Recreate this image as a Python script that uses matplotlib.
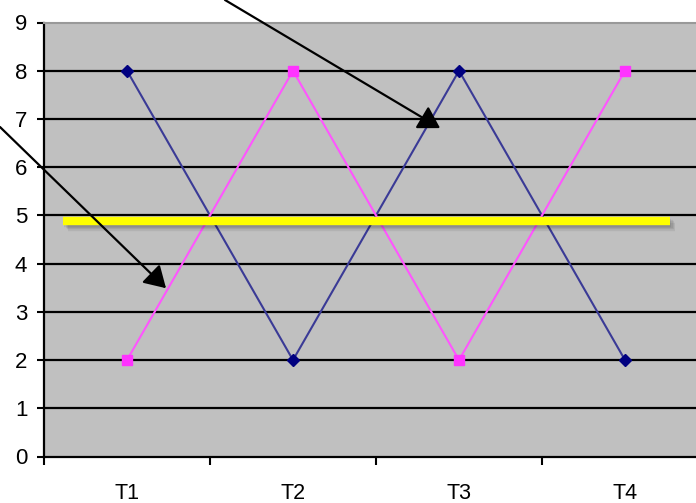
import matplotlib
matplotlib.use("Agg")
import matplotlib.pyplot as plt
import matplotlib.patheffects as pe

# Chart data
categories = ["T1", "T2", "T3", "T4"]
series_a = [8, 2, 8, 2]   # navy, diamonds
series_b = [2, 8, 2, 8]   # magenta, squares
y_ticks = list(range(0, 10))
mean_level = 4.88          # yellow reference line
mean_span = (-0.386, 3.27) # x extent of the reference line (category units)

# Arrow tips (data units) and tails (figure pixels)
arrow_tips = [(1.886, 6.81), (0.235, 3.49)]
arrow_tails = [(225, 503), (0, 376)]

plt.rcParams["font.family"] = ["Liberation Sans", "DejaVu Sans"]

fig = plt.figure(figsize=(6.96, 5.03), dpi=100)
ax = fig.add_axes([44 / 696, 46.5 / 503, 664 / 696, 434 / 503])
ax.set_facecolor("#c0c0c0")

x = list(range(len(categories)))

# Horizontal grid lines
for v in y_ticks[1:-1]:
    ax.axhline(v, color="black", lw=1.6, zorder=1)

ax.plot(x, series_a, color="#3a3a96", lw=1.5, marker="D", ms=6,
        mfc="#000080", mec="#000080", zorder=3)
ax.plot(x, series_b, color="#ff55ff", lw=1.5, marker="s", ms=7,
        mfc="#ff33ff", mec="#ff33ff", zorder=3)

# Yellow reference line with a soft drop shadow
shadow = [pe.SimpleLineShadow(offset=(d, -d), shadow_color="black", alpha=0.07)
          for d in (1.0, 2.0, 3.0, 4.0)]
ax.plot(mean_span, [mean_level, mean_level], color="#ffff00", lw=6,
        solid_capstyle="butt", zorder=4,
        path_effects=shadow + [pe.Normal()])

ax.set_xlim(-0.5, 3.5)
ax.set_ylim(0, 9)

ax.set_yticks(y_ticks)
ax.set_yticklabels([str(v) for v in y_ticks])
ax.tick_params(axis="y", length=5, width=1.5, pad=7, labelsize=16, direction="out")

ax.set_xticks(x)
ax.set_xticklabels(categories)
ax.set_xticks([v - 0.5 for v in range(len(categories) + 1)], minor=True)
ax.tick_params(axis="x", which="major", length=0, pad=19, labelsize=15.5)
ax.tick_params(axis="x", which="minor", length=6, width=1.5, direction="out")
for lbl in ax.get_xticklabels() + ax.get_yticklabels():
    lbl.set_fontweight("medium")

for side in ("top", "right"):
    ax.spines[side].set_color("#999999")
    ax.spines[side].set_linewidth(1.5)
for side in ("left", "bottom"):
    ax.spines[side].set_color("black")
    ax.spines[side].set_linewidth(1.6)

# Pointer arrows
for tip, tail in zip(arrow_tips, arrow_tails):
    ax.annotate("", xy=tip, xycoords="data", xytext=tail, textcoords="figure pixels",
                arrowprops=dict(arrowstyle="-|>,head_length=0.5,head_width=0.3",
                                color="black", lw=1.6,
                                mutation_scale=26, shrinkA=0, shrinkB=0),
                annotation_clip=False, zorder=6)

fig.savefig("out.png", dpi=100)
